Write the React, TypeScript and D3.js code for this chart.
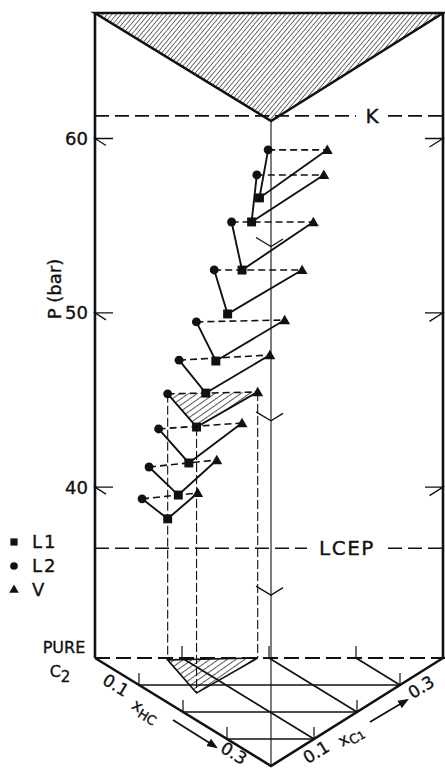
import React from "react";
import * as d3 from "d3";

// pressure axis (bar) and composition range of the drawn prism
const P_BASE = 30.2;
const P_TOP = 67.2;
const X_MAX = 0.4;
const pTicks = [40, 50, 60];
const gridSteps = [0.1, 0.2, 0.3];
const P_K = 61.3;
const P_LCEP = 36.5;

// tie triangles: pressure and mole fractions (x_HC, x_C1) of each phase
const tieP = [59.35, 57.91, 55.21, 52.46, 49.59, 47.58, 45.46, 43.68, 41.56, 39.67];
const l1HC = [0.178, 0.174, 0.178, 0.163, 0.152, 0.141, 0.13, 0.148, 0.13, 0.096];
const l1C1 = [0.099, 0.092, 0.079, 0.07, 0.062, 0.056, 0.051, 0.033, 0.03, 0.035];
const l2HC = [0, 0, 0, 0, 0.007, 0.019, 0.007, 0.022, 0.026, 0.022];
const l2C1 = [0.199, 0.186, 0.157, 0.137, 0.113, 0.087, 0.08, 0.062, 0.049, 0.043];
const vHC = [0, 0, 0, 0, 0, 0, 0, 0, 0, 0];
const vC1 = [0.267, 0.263, 0.251, 0.238, 0.218, 0.201, 0.187, 0.169, 0.14, 0.118];
const hatchedTie = 6;

const legendItems = ["L1", "L2", "V"];

const W = 445;
const H = 768;
const LEFT = 95;
const RIGHT = 443;
const BASE_Y = 658;
const TOP_Y = 13;
const DEPTH_X = 176;
const DEPTH_Y = 108;
const FONT = "'DejaVu Sans', 'Liberation Sans', sans-serif";

const pY = d3.scaleLinear().domain([P_BASE, P_TOP]).range([BASE_Y, TOP_Y]);
const c1X = d3.scaleLinear().domain([0, X_MAX]).range([LEFT, RIGHT]);
const hcDX = d3.scaleLinear().domain([0, X_MAX]).range([0, DEPTH_X]);
const hcDY = d3.scaleLinear().domain([0, X_MAX]).range([0, DEPTH_Y]);

function proj(hc: number, c1: number, p: number): [number, number] {
  return [c1X(c1) + hcDX(hc), pY(p) + hcDY(hc)];
}

const line = d3.line<[number, number]>();
const poly = (pts: [number, number][]) => line(pts) + "Z";

const symCircle = d3.symbol().type(d3.symbolCircle).size(62)();
const symSquare = d3.symbol().type(d3.symbolSquare).size(80)();
const symTri = d3.symbol().type(d3.symbolTriangle).size(52)();
const legendSyms = [
  d3.symbol().type(d3.symbolSquare).size(52)(),
  d3.symbol().type(d3.symbolCircle).size(46)(),
  d3.symbol().type(d3.symbolTriangle).size(40)(),
];

const textStyle = { fill: "#111", stroke: "#111", strokeWidth: 0.35 };

export default function App() {
  const ties = tieP.map((p, i) => ({
    l1: proj(l1HC[i], l1C1[i], p),
    l2: proj(l2HC[i], l2C1[i], p),
    v: proj(vHC[i], vC1[i], p),
    i,
  }));
  const ht = hatchedTie;
  const htBase = {
    l1: proj(l1HC[ht], l1C1[ht], P_BASE),
    l2: proj(l2HC[ht], l2C1[ht], P_BASE),
    v: proj(vHC[ht], vC1[ht], P_BASE),
  };

  const topBL = proj(0, 0, P_TOP);
  const topBR = proj(0, X_MAX, P_TOP);
  const topF = proj(X_MAX, 0, P_TOP);
  const baseBL = proj(0, 0, P_BASE);
  const baseBR = proj(0, X_MAX, P_BASE);
  const baseF = proj(X_MAX, 0, P_BASE);

  const kY = pY(P_K);
  const lcepY = pY(P_LCEP);

  return (
    <svg
      width={W}
      height={H}
      style={{ position: "absolute", left: 0, top: 0, background: "#fff" }}
      fontFamily={FONT}
    >
      <defs>
        <pattern id="hatchTop" width="3.5" height="3.5" patternUnits="userSpaceOnUse" patternTransform="rotate(40)">
          <line x1="0" y1="0" x2="0" y2="3.5" stroke="#111" strokeWidth="1.2" />
        </pattern>
        <pattern id="hatchTie" width="5" height="5" patternUnits="userSpaceOnUse" patternTransform="rotate(55)">
          <line x1="0" y1="0" x2="0" y2="5" stroke="#111" strokeWidth="1.4" />
        </pattern>
        <marker id="arrow" viewBox="0 0 10 10" refX="8" refY="5" markerWidth="6" markerHeight="6" orient="auto">
          <path d="M0,1 L10,5 L0,9 Z" fill="#111" />
        </marker>
      </defs>

      {/* top face */}
      <path d={poly([topBL, topBR, topF])} fill="url(#hatchTop)" stroke="#111" strokeWidth={2.6} strokeLinejoin="miter" />

      {/* vertical edges */}
      <path d={line([topBL, baseBL])} stroke="#111" strokeWidth={2.6} />
      <path d={line([topBR, baseBR])} stroke="#111" strokeWidth={2.6} />
      <path d={line([topF, baseF])} stroke="#111" strokeWidth={1.1} />

      {/* base: dashed back edge, front edges and grid */}
      <path d={line([baseBL, [W, baseBR[1]]])} stroke="#111" strokeWidth={2} strokeDasharray="15 6" />
      <path d={poly([htBase.l2, htBase.v, htBase.l1])} fill="url(#hatchTie)" stroke="#111" strokeWidth={1.6} />
      {gridSteps.map((s) => (
        <g key={"g" + s} stroke="#111" strokeWidth={1.7}>
          <path d={line([proj(s, 0, P_BASE), proj(s, X_MAX - s, P_BASE)])} />
          <path d={line([proj(0, s, P_BASE), proj(X_MAX - s, s, P_BASE)])} />
        </g>
      ))}
      {gridSteps.map((s) => {
        const a = proj(0, s, P_BASE);
        const b = proj(s, 0, P_BASE);
        const c = proj(X_MAX - s, s, P_BASE);
        return (
          <g key={"t" + s} stroke="#111" strokeWidth={1.2}>
            <path d={line([a, [a[0], a[1] - 12]])} />
            <path d={line([b, [b[0], b[1] - 12]])} />
            <path d={line([c, [c[0], c[1] - 12]])} />
          </g>
        );
      })}
      <path d={line([baseBL, baseF, baseBR])} fill="none" stroke="#111" strokeWidth={2.6} />

      {/* pressure ticks */}
      {pTicks.map((p) => {
        const l = proj(0, 0, p);
        const r = proj(0, X_MAX, p);
        const f = proj(X_MAX, 0, p);
        return (
          <g key={"p" + p} stroke="#111" strokeWidth={1.3} fill="none">
            <path d={line([[l[0] + 18, l[1]], l, [l[0] + 11, l[1] + 7]])} />
            <path d={line([[r[0] - 18, r[1]], r, [r[0] - 13.5, r[1] + 8.5]])} />
            <path d={line([[f[0] - 15, f[1] - 9], f, [f[0] + 12, f[1] - 7.5]])} />
            <text x={l[0] - 7} y={l[1]} dy="0.36em" textAnchor="end" fontSize={18} {...textStyle}>
              {p}
            </text>
          </g>
        );
      })}

      {/* K and LCEP */}
      <g stroke="#111" strokeWidth={1.6} strokeDasharray="14 6">
        <path d={line([[LEFT, kY], [356, kY]])} />
        <path d={line([[388, kY], [RIGHT, kY]])} />
        <path d={line([[LEFT, lcepY], [307, lcepY]])} />
        <path d={line([[388, lcepY], [RIGHT, lcepY]])} />
      </g>
      <text x={372} y={kY} dy="0.36em" textAnchor="middle" fontSize={20} {...textStyle}>K</text>
      <text x={347} y={lcepY} dy="0.36em" textAnchor="middle" fontSize={20} letterSpacing={1.5} {...textStyle}>LCEP</text>

      {/* projections of the hatched tie triangle */}
      <g stroke="#111" strokeWidth={1.1} strokeDasharray="9 3">
        <path d={line([ties[ht].l2, htBase.l2])} />
        <path d={line([ties[ht].l1, htBase.l1])} />
        <path d={line([ties[ht].v, htBase.v])} />
      </g>
      <path d={poly([ties[ht].l2, ties[ht].v, ties[ht].l1])} fill="url(#hatchTie)" stroke="none" />

      {/* tie triangles */}
      {ties.map((t) => (
        <g key={"tie" + t.i} fill="none" stroke="#111">
          <path d={line([t.l2, t.v])} strokeWidth={1.6} strokeDasharray="7 4" />
          <path d={line([t.l2, t.l1, t.v])} strokeWidth={1.9} />
        </g>
      ))}
      {ties.map((t) => (
        <g key={"m" + t.i} fill="#111">
          <path d={symCircle} transform={`translate(${t.l2[0]},${t.l2[1]})`} />
          <path d={symSquare} transform={`translate(${t.l1[0]},${t.l1[1]})`} />
          <path d={symTri} transform={`translate(${t.v[0]},${t.v[1] + 1})`} />
        </g>
      ))}

      {/* axis title */}
      <text transform="translate(55,289) rotate(-90)" textAnchor="middle" dy="0.36em" fontSize={18} {...textStyle}>
        P (bar)
      </text>

      {/* legend */}
      {legendItems.map((name, i) => (
        <g key={name} transform={`translate(14,${542 + i * 24})`}>
          <path d={legendSyms[i]} fill="#111" />
          <text x={18} dy="0.36em" fontSize={18} {...textStyle}>
            {name.length > 1 ? (
              <>
                {name[0]}
                <tspan dx={2}>{name.slice(1)}</tspan>
              </>
            ) : (
              name
            )}
          </text>
        </g>
      ))}

      {/* pure C2 */}
      <text x={64} y={647} textAnchor="middle" dy="0.36em" fontSize={16} {...textStyle}>PURE</text>
      <text x={60} y={671} textAnchor="middle" dy="0.36em" fontSize={16} {...textStyle}>
        C<tspan dy={5} fontSize={15}>2</tspan>
      </text>

      {/* composition axis labels */}
      <g fontSize={17} {...textStyle}>
        <text transform="translate(116,685) rotate(31.5)" textAnchor="middle" dy="0.36em">0.1</text>
        <text transform="translate(146,710) rotate(31.5)" textAnchor="middle" dy="0.36em">
          <tspan fontSize={16}>x</tspan>
          <tspan dy={4} fontSize={13}>HC</tspan>
        </text>
        <text transform="translate(234,753) rotate(31.5)" textAnchor="middle" dy="0.36em">0.3</text>
        <text transform="translate(316,752) rotate(-31.5)" textAnchor="middle" dy="0.36em">0.1</text>
        <text transform="translate(350,735) rotate(-31.5)" textAnchor="middle" dy="0.36em">
          <tspan fontSize={16}>x</tspan>
          <tspan dy={4} fontSize={13}>C</tspan>
          <tspan fontSize={11}>1</tspan>
        </text>
        <text transform="translate(421,687) rotate(-31.5)" textAnchor="middle" dy="0.36em">0.3</text>
      </g>
      <path d={line([[173, 720], [216, 747]])} stroke="#111" strokeWidth={1.8} markerEnd="url(#arrow)" />
      <path d={line([[370, 722], [407, 700]])} stroke="#111" strokeWidth={1.8} markerEnd="url(#arrow)" />
    </svg>
  );
}
